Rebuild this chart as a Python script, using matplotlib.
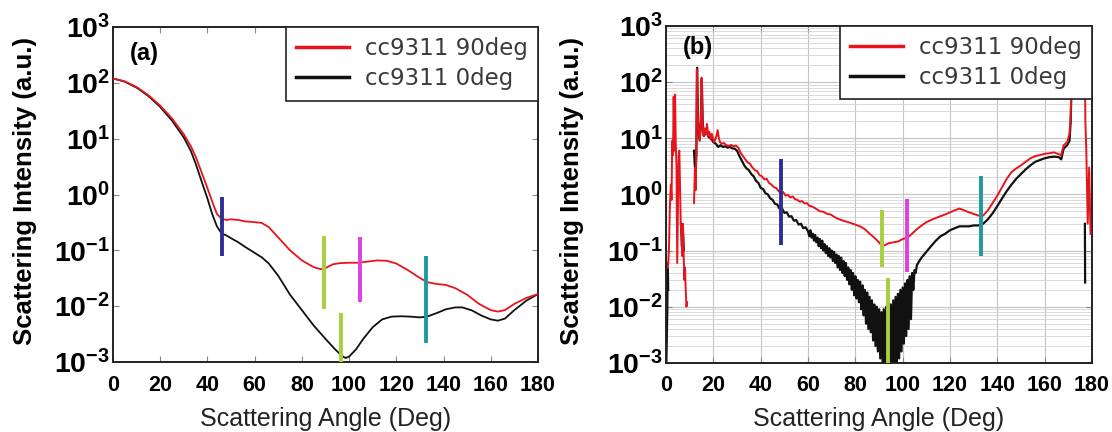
import numpy as np
import matplotlib
matplotlib.use("Agg")
import matplotlib.pyplot as plt


# ************ #
# *** DATA *** #
# ************ #

# (a) smooth curves
angleA0 = [0, 5, 10, 15, 20, 25, 30, 33, 35, 38, 40, 42, 44, 46, 48, 50, 53, 56, 60, 63, 66, 70,
           75, 80, 85, 90, 94, 97, 98.5, 100, 103, 106, 110, 114, 118, 122, 126, 130, 133, 137,
           141, 145, 148, 152, 156, 160, 163, 166, 170, 175, 180]
intA0 = [120, 105, 82, 58, 37, 21, 10.5, 6, 3.6, 1.5, 0.85, 0.45, 0.27, 0.2, 0.185, 0.165, 0.14,
         0.115, 0.09, 0.075, 0.058, 0.035, 0.016, 0.0085, 0.0045, 0.0026, 0.0017, 0.00128, 0.00118,
         0.00125, 0.0017, 0.0026, 0.0042, 0.0058, 0.0065, 0.0066, 0.0065, 0.0063, 0.0065, 0.0075,
         0.0088, 0.0095, 0.0095, 0.0084, 0.0068, 0.0058, 0.0055, 0.006, 0.0085, 0.0125, 0.0165]

angleA90 = [0, 5, 10, 15, 20, 25, 30, 33, 35, 38, 40, 42, 44, 46, 48, 50, 53, 56, 60, 63, 66, 70,
            75, 80, 85, 88, 90, 93, 96, 100, 104, 108, 112, 116, 120, 125, 130, 133, 137, 141,
            145, 150, 155, 160, 163, 166, 170, 175, 180]
intA90 = [120, 106, 84, 60, 39, 23, 12, 7.3, 4.8, 2.2, 1.3, 0.75, 0.45, 0.37, 0.35, 0.36, 0.35,
          0.33, 0.32, 0.31, 0.26, 0.17, 0.1, 0.066, 0.05, 0.046, 0.048, 0.056, 0.059, 0.06, 0.06,
          0.063, 0.066, 0.065, 0.058, 0.044, 0.032, 0.027, 0.025, 0.024, 0.021, 0.016, 0.011,
          0.0085, 0.008, 0.0085, 0.011, 0.014, 0.0165]

# (b) measured curves, NaN = gap in the trace
angleB90 = [0.8, 1.2, 1.6, 2.0, 2.3, 2.6, 2.9, 3.2, 3.5, 3.8, 4.1, 4.4, 4.7, 5.0, 5.3, 5.6, 5.9,
            6.2, 6.5, 6.8, 7.1, 7.4, 7.7, 8.0, 8.3, 8.6, 8.9, 10.0,
            11.8, 12.2, 12.6, 13.0, 13.4, 13.8, 14.2, 14.6, 15.0, 15.4, 15.8, 16.3, 16.8, 17.3,
            17.8, 18.3, 18.8, 19.3, 19.8, 20.3, 20.8, 21.3, 21.8, 22.3, 22.8, 23.5, 24.5, 25.5,
            26.5, 27.5, 28.5, 29.5, 30.5, 31.5, 32.5, 33.5, 34.5, 35.5, 36.5, 37.5, 38.5, 39.5,
            40.5, 41.5, 42.5, 43.5, 44.5, 45.5, 46.5, 47.5, 48.5, 49.5, 50.5, 51.5, 52.5, 53.5,
            54.5, 55.5, 56.5, 57.5, 58.5, 59.5, 60.5, 62, 63.5, 65, 66.5, 68, 69.5, 71, 72.5, 74,
            76, 78, 80, 82, 84, 86, 88, 90, 91.2, 92.5, 94, 96, 98, 100, 102, 104, 106, 108, 110,
            112, 114, 116, 118, 120, 122, 124, 126, 128, 130, 132, 134, 136, 138, 140, 142, 144,
            146, 148, 150, 152, 154, 156, 158, 160, 162, 164, 166, 167, 168, 169.5, 170.5, 171,
            171.5, 172, 174,
            176.8, 177.2, 177.6, 178.2, 178.8, 179.4]
intB90 = [0.05, 0.1, 0.6, 1.5, 0.8, 9, 5, 55, 6, 60, 8, 3, 0.06, 0.5, 5, 6, 1.4, 0.3, 0.2, 0.08,
          0.3, 0.1, 0.03, 0.05, 0.02, 0.01, 0.012, np.nan,
          0.7, 3.0, 1.2, 170, 25, 12, 9, 15, 120, 20, 11, 15, 12, 18, 11, 13, 9.5, 12, 10, 8.5,
          9.5, 11, 14, 10, 8.5, 8, 8.2, 7.5, 7.3, 7.6, 7.2, 7.4, 6.8, 5.5, 4.8, 4.2, 3.7, 3.5,
          3.0, 2.7, 2.6, 2.2, 2.1, 1.85, 1.9, 1.6, 1.5, 1.35, 1.3, 1.15, 1.05, 1.1, 0.95, 0.98,
          0.88, 0.92, 0.82, 0.8, 0.74, 0.76, 0.69, 0.7, 0.63, 0.6, 0.55, 0.5, 0.49, 0.45, 0.44,
          0.4, 0.37, 0.35, 0.33, 0.31, 0.29, 0.27, 0.24, 0.2, 0.17, 0.14, 0.12, 0.125, 0.135,
          0.14, 0.145, 0.16, 0.17, 0.2, 0.24, 0.28, 0.32, 0.35, 0.38, 0.41, 0.44, 0.48, 0.52,
          0.56, 0.52, 0.48, 0.45, 0.42, 0.42, 0.52, 0.7, 0.95, 1.35, 1.9, 2.5, 2.9, 3.3, 3.8,
          4.4, 4.8, 5.0, 5.3, 5.4, 5.6, 5.2, 5.0, 7.5, 8.5, 12, 25, 200, 1200, np.nan,
          1500, 20, 6, 0.3, 3, 0.2]

angleB0 = [0.1, 0.3, 0.5, 0.7, 0.9, 2.0,
           6.3, 6.7, 7.1, 7.5, 9.0,
           11.8, 12.1, 12.4, 12.8, 13.1, 13.5, 14, 14.6, 15.1, 15.5, 16, 17, 18, 19, 20, 21, 22,
           23, 24, 25, 26, 27, 28, 29, 30, 31, 32, 33, 34,
           35, 36, 37, 38, 39, 40, 41, 42, 43, 44, 45, 46, 47, 48, 49, 50, 51, 52, 53, 54, 55,
           56, 57, 58, 59,
           60.0, 60.5, 61.0, 61.5, 62.0, 62.5, 63.0, 63.5, 64.0, 64.5, 65.0, 65.5, 66.0, 66.5,
           67.0, 67.5, 68.0, 68.5, 69.0, 69.5, 70.0, 70.5, 71.0, 71.5, 72.0, 72.5, 73.0, 73.5,
           74.0, 74.5, 75.0, 75.5, 76.0, 76.5, 77.0, 77.5, 78.0, 78.5, 79.0, 79.5, 80.0, 80.5,
           81.0, 81.5, 82.0, 82.5, 83.0, 83.5, 84.0, 84.5, 85.0, 85.5, 86.0, 86.5, 87.0, 87.5,
           88.0, 88.5, 89.0, 89.5, 90.0, 90.5, 91.0, 91.5, 92.0, 92.5, 93.0, 93.5, 94.0, 94.5,
           95.0, 95.5, 96.0, 96.5, 97.0, 97.5, 98.0, 98.5, 99.0, 99.5, 100.0, 100.5, 101.0,
           101.5, 102.0, 102.5, 103.0, 103.5, 104.0, 104.5, 105.0, 105.5, 106.0,
           107, 108, 110, 112, 114, 116, 118, 120, 122, 124, 126, 128, 130, 132, 134, 136, 138,
           140, 142, 144, 146, 148, 150, 152, 154, 156, 158, 160, 162, 164, 166, 167, 168, 169.5,
           170.5, 171, 171.5, 172, 174,
           177.0, 177.1, 178.0,
           179.6, 179.8]
intB0 = [0.0009, 0.003, 0.008, 0.06, 0.02, np.nan,
         0.3, 0.12, 0.25, 0.1, np.nan,
         6, 3.5, 2.5, 5, 180, 20, 10, 14, 110, 18, 11, 13, 10.5, 10, 8.5, 8, 7, 7.5, 7, 7.2,
         6.8, 7, 6.6, 6.5, 6, 4.8, 4, 3.3, 2.9,
         2.7, 2.3, 2.1, 1.75, 1.6, 1.3, 1.25, 1.05, 1.0, 0.85, 0.8, 0.68, 0.66, 0.55, 0.56,
         0.47, 0.48, 0.4, 0.41, 0.34, 0.35, 0.29, 0.3, 0.25, 0.26,
         0.22, 0.18, 0.23, 0.17, 0.2, 0.15, 0.19, 0.14, 0.17, 0.12, 0.16, 0.11, 0.15, 0.1,
         0.13, 0.09, 0.12, 0.08, 0.11, 0.075, 0.1, 0.065, 0.095, 0.06, 0.085, 0.05, 0.08, 0.045,
         0.075, 0.04, 0.065, 0.035, 0.06, 0.03, 0.05, 0.025, 0.045, 0.02, 0.04, 0.016, 0.035,
         0.014, 0.03, 0.012, 0.028, 0.009, 0.024, 0.007, 0.02, 0.005, 0.018, 0.004, 0.015,
         0.0035, 0.013, 0.0025, 0.011, 0.002, 0.01, 0.0016, 0.009, 0.0012, 0.008, 0.001, 0.009,
         0.0008, 0.01, 0.0006, 0.012, 0.0005, 0.011, 0.0005, 0.013, 0.0006, 0.015, 0.0008,
         0.017, 0.0012, 0.02, 0.0016, 0.022, 0.0022, 0.026, 0.003, 0.03, 0.004, 0.035, 0.006,
         0.04, 0.02, 0.045, 0.04, 0.055,
         0.065, 0.075, 0.095, 0.12, 0.15, 0.18, 0.2, 0.23, 0.25, 0.27, 0.27, 0.27, 0.28, 0.28,
         0.3, 0.36, 0.46, 0.62, 0.85, 1.15, 1.5, 1.9, 2.3, 2.8, 3.3, 3.8, 4.1, 4.4, 4.6, 4.7,
         4.6, 4.2, 6.5, 7.5, 9, 20, 150, 1200, np.nan,
         0.3, 0.027, np.nan,
         0.35, 0.2]

# vertical marker bars: angle, low, high, colour
markAngleA = [46, 89.5, 104.5, 132.5, 96.5]
markLowA = [0.08, 0.009, 0.012, 0.0022, 0.001]
markHighA = [0.9, 0.18, 0.17, 0.08, 0.0075]
markAngleB = [48.4, 91.2, 102, 132.9, 93.8]
markLowB = [0.126, 0.052, 0.042, 0.079, 0.001]
markHighB = [4.3, 0.52, 0.83, 2.15, 0.032]
markColours = ["#2e2f96", "#a8cf3c", "#e03ee0", "#1d9a9c", "#a8cf3c"]

xTicks = [0, 20, 40, 60, 80, 100, 120, 140, 160, 180]
yTicks = [1e-3, 1e-2, 1e-1, 1e0, 1e1, 1e2, 1e3]
yTickLabels = ["$10^{-3}$", "$10^{-2}$", "$10^{-1}$", "$10^{0}$", "$10^{1}$", "$10^{2}$", "$10^{3}$"]


# ************* #
# *** STYLE *** #
# ************* #

plt.rcParams["font.family"] = ["Liberation Sans", "DejaVu Sans"]
plt.rcParams["mathtext.fontset"] = "custom"
plt.rcParams["mathtext.rm"] = "Liberation Sans:bold"
plt.rcParams["mathtext.bf"] = "Liberation Sans:bold"
plt.rcParams["mathtext.it"] = "Liberation Sans:bold"

TICKFONT = {"family": "Liberation Sans", "weight": "bold", "size": 15.5}


def styleAxes(ax, label, grid, labelY):
    ax.set_yscale("log")
    ax.set_xlim(0, 180)
    ax.set_ylim(1e-3, 1e3)
    ax.set_xticks(xTicks)
    ax.set_xticklabels([str(t) for t in xTicks], fontdict=TICKFONT)
    ax.set_yticks(yTicks)
    ax.set_yticklabels(yTickLabels, fontsize=20.5)
    ax.minorticks_off()
    ax.tick_params(direction="in", top=True, right=True, length=4, width=0.8,
                   color="#888888")
    ax.tick_params(axis="x", pad=9)
    ax.tick_params(axis="y", pad=2)
    for s in ax.spines.values():
        s.set_linewidth(1.4)
        s.set_color("#222222")
    if grid:
        ax.set_yticks(np.concatenate([np.arange(2, 10) * 10.0 ** e for e in range(-3, 3)]), minor=True)
        ax.tick_params(axis="y", which="minor", length=0, labelleft=False)
        ax.grid(True, which="major", color="#c4c4c4", linewidth=0.8)
        ax.grid(True, which="minor", axis="y", color="#d4d4d4", linewidth=0.6)
        ax.set_axisbelow(True)
    ax.set_xlabel("Scattering Angle (Deg)", fontsize=18, labelpad=8, color="#222222")
    ax.set_ylabel("Scattering Intensity (a.u.)", fontsize=18.5, fontweight="bold")
    ax.text(0.04, labelY, label, transform=ax.transAxes, fontsize=17, fontweight="bold",
            ha="left", va="center")
    leg = ax.legend(loc="upper right", bbox_to_anchor=(1.0, 1.0), borderaxespad=0,
                    fancybox=False, framealpha=1, edgecolor="#222222",
                    prop={"family": "DejaVu Sans", "size": 16.5},
                    handlelength=2.3, handletextpad=0.7, borderpad=0.45, labelspacing=0.3)
    leg.get_frame().set_linewidth(1.2)
    for t in leg.get_texts():
        t.set_color("#3a3a3a")
    for line in leg.get_lines():
        line.set_linewidth(2.5)


# ************* #
# *** CHART *** #
# ************* #

fig = plt.figure(figsize=(11.12, 4.32), dpi=100)
ax1 = fig.add_axes([0.1016, 0.162, 0.3822, 0.7755])
ax2 = fig.add_axes([0.599, 0.160, 0.383, 0.780])

ax1.plot(angleA90, intA90, color="#e8141c", lw=1.3, label="cc9311 90deg", zorder=3)
ax1.plot(angleA0, intA0, color="#111111", lw=1.3, label="cc9311 0deg", zorder=2)
for a, lo, hi, c in zip(markAngleA, markLowA, markHighA, markColours):
    ax1.plot([a, a], [lo, hi], color=c, lw=2.8, solid_capstyle="butt", zorder=4)

ax2.plot(angleB0, intB0, color="#111111", lw=1.6, zorder=2)
ax2.plot(angleB90, intB90, color="#e8141c", lw=1.4, zorder=3)
ax2.plot([], [], color="#e8141c", label="cc9311 90deg")
ax2.plot([], [], color="#111111", label="cc9311 0deg")
for a, lo, hi, c in zip(markAngleB, markLowB, markHighB, markColours):
    ax2.plot([a, a], [lo, hi], color=c, lw=2.8, solid_capstyle="butt", zorder=4)

styleAxes(ax1, "(a)", False, 0.922)
styleAxes(ax2, "(b)", True, 0.935)

ax1.yaxis.set_label_coords(-0.178, 0.51)
ax2.yaxis.set_label_coords(-0.192, 0.51)

plt.savefig("out.png", dpi=100)
plt.close(fig)
